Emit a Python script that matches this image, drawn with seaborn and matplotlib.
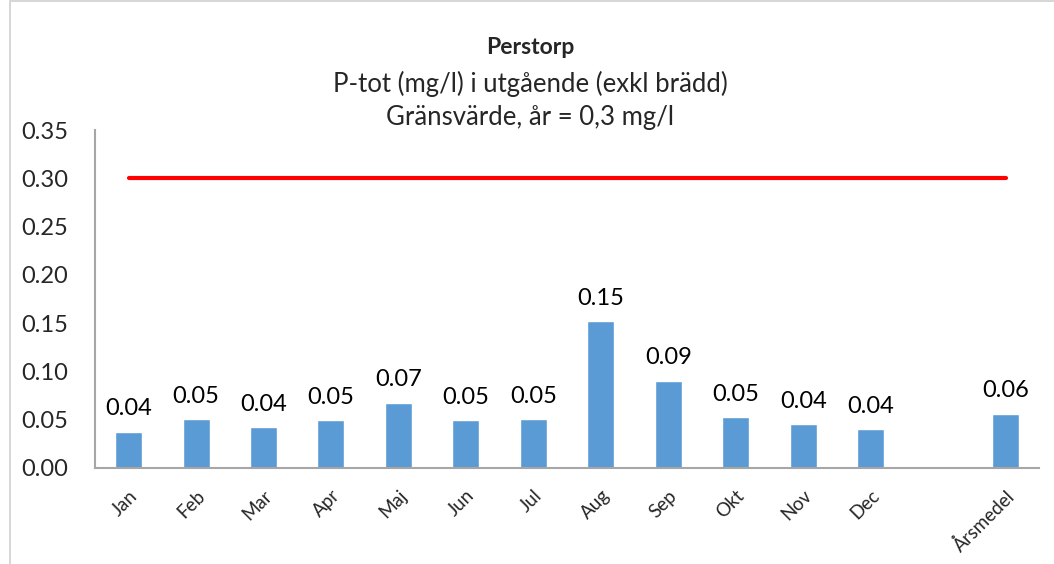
import pandas as pd
import matplotlib.pyplot as plt
import seaborn as sns
from matplotlib.patches import Rectangle

# Values (P-tot, mg/l)
months = ['Jan', 'Feb', 'Mar', 'Apr', 'Maj', 'Jun', 'Jul', 'Aug', 'Sep', 'Okt', 'Nov', 'Dec']
month_values = [0.037, 0.050, 0.042, 0.049, 0.067, 0.049, 0.050, 0.152, 0.090, 0.052, 0.045, 0.040]
annual_label = 'Årsmedel'
annual_value = 0.056
limit_value = 0.3

categories = months + [' ', annual_label]
df = pd.DataFrame({'Månad': months + [annual_label],
                   'P-tot': month_values + [annual_value]})

sns.set_theme(style="white")
plt.rcParams['font.family'] = ['Lato', 'DejaVu Sans']

fig = plt.figure(figsize=(10.54, 5.64), dpi=100)
ax = fig.add_axes([0.090, 0.171, 0.896, 0.598])

sns.barplot(data=df, x='Månad', y='P-tot', order=categories,
            color='#5B9BD5', saturation=1, width=0.4, ax=ax)

for cont in ax.containers:
    ax.bar_label(cont, fmt='%.2f', padding=9, fontsize=17, color='black')

# limit line spanning first to last category
ax.plot([0, len(categories) - 1], [limit_value, limit_value],
        color='#FF0000', lw=3, solid_capstyle='round')

ax.set_ylim(0, 0.35)
ax.set_xlim(-0.5, len(categories) - 0.5)
ax.set_yticks([i * 0.05 for i in range(8)])
ax.set_yticklabels([f'{i * 0.05:.2f}' for i in range(8)], fontsize=17)
ax.set_xticks(range(len(categories)))
ax.set_xticklabels(categories, rotation=45, ha='right', rotation_mode='anchor', fontsize=13.5)
ax.tick_params(axis='x', length=0, pad=14)
ax.tick_params(axis='y', length=0, pad=19)
ax.set_xlabel('')
ax.set_ylabel('')
for s in ['top', 'right']:
    ax.spines[s].set_visible(False)
for s in ['left', 'bottom']:
    ax.spines[s].set_color('#A6A6A6')
    ax.spines[s].set_linewidth(1.5)

fig.text(0.503, 0.916, 'Perstorp', ha='center', va='center', fontsize=16.5, fontweight='bold')
fig.text(0.503, 0.851, 'P-tot (mg/l) i utgående (exkl brädd)', ha='center', va='center', fontsize=18.5)
fig.text(0.503, 0.791, 'Gränsvärde, år = 0,3 mg/l', ha='center', va='center', fontsize=18.5)

fig.patches.append(Rectangle((0.0095, -0.01), 1.0, 1.008, transform=fig.transFigure,
                             fill=False, edgecolor='#D0D0D0', lw=1.2))

fig.savefig('out.png', dpi=100)
